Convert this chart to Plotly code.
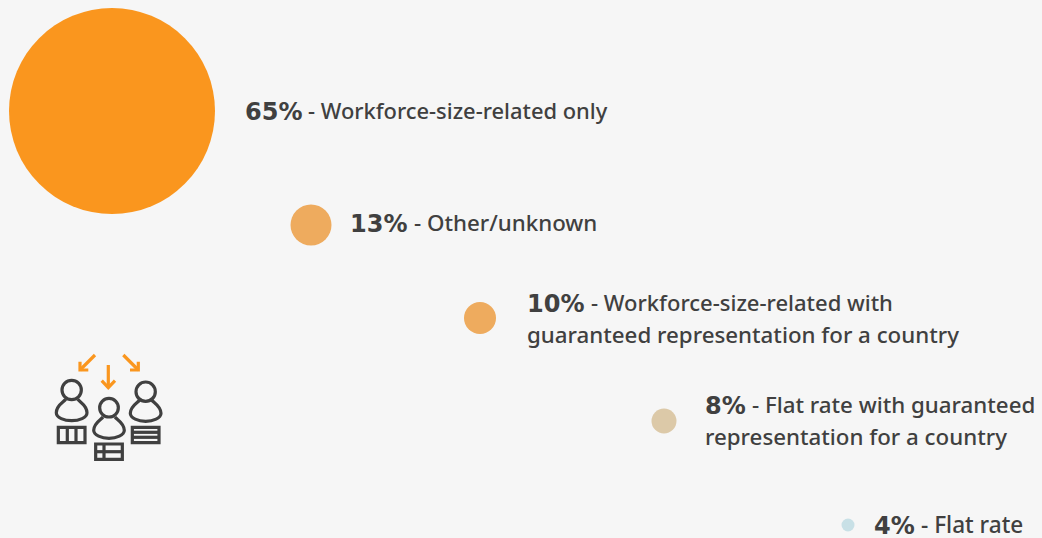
import plotly.graph_objects as go

shares = [65, 13, 10, 8, 4]
share_labels = ["65%", "13%", "10%", "8%", "4%"]
descriptions = [
    ["- Workforce-size-related only"],
    ["- Other/unknown"],
    ["- Workforce-size-related with", "guaranteed representation for a country"],
    ["- Flat rate with guaranteed", "representation for a country"],
    ["- Flat rate"],
]
bubble_x = [112, 311, 480, 664, 848]
bubble_y = [111, 225, 318, 421, 525]
bubble_d = [206, 41, 32, 25, 13]
colors = ["#fa961e", "#eeab5e", "#eeab5e", "#dcc9a8", "#c8e0e6"]
text_x = [245, 350, 527, 705, 874]
desc_x = [308, 414, 591, 752, 921]
text_y = [[111], [223], [303, 335], [405, 437], [525]]
desc_sizes = [21.9, 22.3, 22.0, 22.3, 22.6]
INK = "#404040"
ORANGE = "#fa961e"
BG = "#f6f6f6"

fig = go.Figure(go.Scatter(
    x=bubble_x, y=bubble_y, mode="markers",
    marker=dict(size=bubble_d, sizemode="diameter", color=colors, opacity=1, line=dict(width=0)),
    customdata=shares, hoverinfo="skip", showlegend=False,
))

ann = []
for i, lab in enumerate(share_labels):
    f = dict(family="Noto Sans", size=desc_sizes[i], color=INK, weight=500)
    ann.append(dict(x=text_x[i], y=text_y[i][0] + 0.5, text=f"<b>{lab}</b>", xanchor="left", yanchor="middle",
                    showarrow=False, font=dict(family="DejaVu Sans", size=24, color=INK)))
    ann.append(dict(x=desc_x[i], y=text_y[i][0] - 1, text=descriptions[i][0], xanchor="left", yanchor="middle",
                    showarrow=False, font=f))
    if len(descriptions[i]) > 1:
        ann.append(dict(x=text_x[i], y=text_y[i][1] - 1, text=descriptions[i][1], xanchor="left", yanchor="middle",
                        showarrow=False, font=dict(family="Noto Sans", size=22.3, color=INK, weight=500)))
for a in ann:
    a["xref"] = "x"; a["yref"] = "y"; a["borderpad"] = 0; a["borderwidth"] = 0

# decorative icon, traced in 3x crop units of the picture
LW = 3.2
def P(x, y):
    return f"{40 + x / 3:.1f},{340 + y / 3:.1f}"

def path(pts, color, width=LW):
    d = "M" + " L".join(P(*p) for p in pts)
    return dict(type="path", path=d, xref="x", yref="y", line=dict(color=color, width=width))

def head(cx, cy, r):
    return dict(type="circle", xref="x", yref="y", x0=40 + (cx - r) / 3, x1=40 + (cx + r) / 3,
                y0=340 + (cy - r) / 3, y1=340 + (cy + r) / 3, line=dict(color=INK, width=LW))

def body(cx, top, w=46, h=64):
    d = (f"M{P(cx - 18, top)} C{P(cx - 24, top + 8)} {P(cx - w, top + 18)} {P(cx - w, top + 40)} "
         f"C{P(cx - w, top + 55)} {P(cx - 22, top + h)} {P(cx, top + h)} "
         f"C{P(cx + 22, top + h)} {P(cx + w, top + 55)} {P(cx + w, top + 40)} "
         f"C{P(cx + w, top + 18)} {P(cx + 24, top + 8)} {P(cx + 18, top)}")
    return dict(type="path", path=d, xref="x", yref="y", line=dict(color=INK, width=LW))

def table(x0, y0, x1, y1):
    return dict(type="rect", xref="x", yref="y", x0=40 + x0 / 3, x1=40 + x1 / 3, y0=340 + y0 / 3, y1=340 + y1 / 3,
                line=dict(color=INK, width=LW))

shapes = [
    head(95, 150, 29), body(95, 178), table(55, 262, 135, 308),
    path([(82, 262), (82, 308)], INK), path([(108, 262), (108, 308)], INK),
    head(207, 203, 28), body(207, 231), table(167, 312, 247, 358),
    path([(167, 335), (247, 335)], INK), path([(192, 312), (192, 358)], INK),
    head(317, 155, 29), body(317, 180), table(277, 262, 357, 308),
    path([(277, 277), (357, 277)], INK), path([(277, 292), (357, 292)], INK),
    path([(205, 75), (205, 143)], ORANGE), path([(185, 122), (205, 143), (225, 122)], ORANGE),
    path([(165, 45), (120, 90)], ORANGE), path([(120, 65), (120, 90), (145, 90)], ORANGE),
    path([(250, 45), (295, 90)], ORANGE), path([(295, 65), (295, 90), (270, 90)], ORANGE),
]

fig.update_layout(
    width=1042, height=538, margin=dict(l=0, r=0, t=0, b=0),
    paper_bgcolor=BG, plot_bgcolor=BG, annotations=ann, shapes=shapes,
    xaxis=dict(range=[0, 1042], visible=False, fixedrange=True),
    yaxis=dict(range=[538, 0], visible=False, fixedrange=True),
)
fig.write_html("out.html", config=dict(displayModeBar=False),
               post_script="document.body.style.margin='0';document.body.style.overflow='hidden';document.body.style.background='#f6f6f6';")
